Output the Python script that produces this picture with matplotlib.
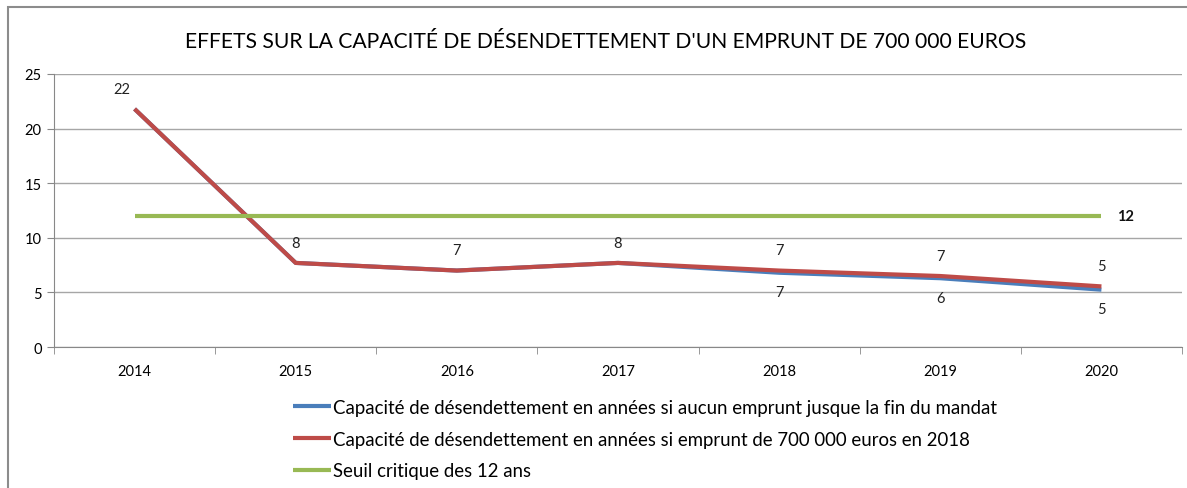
import numpy as np
import matplotlib.pyplot as plt
from matplotlib.patches import Rectangle

plt.rcParams['font.family'] = ['Lato', 'DejaVu Sans']

years = ['2014', '2015', '2016', '2017', '2018', '2019', '2020']
sans_emprunt = [21.8, 7.7, 7.0, 7.7, 6.8, 6.3, 5.25]
avec_emprunt = [21.8, 7.7, 7.0, 7.7, 7.0, 6.5, 5.55]
seuil = [12, 12, 12, 12, 12, 12, 12]

lab_sans = {4: '7', 5: '6', 6: '5'}
lab_avec = ['22', '8', '7', '8', '7', '7', '5']

titre = "EFFETS SUR LA CAPACITÉ DE DÉSENDETTEMENT D'UN EMPRUNT DE 700 000 EUROS"
noms = ["Capacité de désendettement en années si aucun emprunt jusque la fin du mandat",
        "Capacité de désendettement en années si emprunt de 700 000 euros en 2018",
        "Seuil critique des 12 ans"]

BLEU = '#4a7ebb'
ROUGE = '#be4b48'
VERT = '#98b954'

fig = plt.figure(figsize=(11.87, 4.89), dpi=100)
ax = fig.add_axes([54/1187, 1 - 348/489, 1128/1187, 273/489])

x = np.arange(len(years))
l1, = ax.plot(x, sans_emprunt, color=BLEU, lw=3, solid_capstyle='butt')
l2, = ax.plot(x, avec_emprunt, color=ROUGE, lw=3, solid_capstyle='butt')
l3, = ax.plot(x, seuil, color=VERT, lw=3, solid_capstyle='butt')

# étiquettes de données
for i, t in enumerate(lab_avec):
    ax.annotate(t, (x[i], avec_emprunt[i]), xytext=(-9 if i == 0 else 0, 9.5),
                textcoords='offset points', ha='center', va='bottom', fontsize=10.5, color='#222222')
for i, t in lab_sans.items():
    ax.annotate(t, (x[i], sans_emprunt[i]), xytext=(0, -9),
                textcoords='offset points', ha='center', va='top', fontsize=10.5, color='#222222')
ax.annotate('12', (x[-1], seuil[-1]), xytext=(11.5, 0), textcoords='offset points',
            ha='left', va='center', fontsize=10.5, fontweight='bold', color='#111111')

ax.set_xlim(-0.5, 6.5)
ax.set_ylim(0, 25)
ax.set_yticks([0, 5, 10, 15, 20, 25])
ax.set_xticks(x)
ax.set_xticklabels(years)
ax.set_xticks(np.arange(-0.5, 7, 1), minor=True)
ax.tick_params(axis='x', which='major', length=0, pad=12, labelsize=10.5)
ax.tick_params(axis='x', which='minor', length=5, color='#888888')
ax.tick_params(axis='y', length=5, color='#888888', labelsize=10.5, pad=4)
ax.grid(axis='y', color='#a6a6a6', lw=1)
ax.set_axisbelow(True)
for s in ['top', 'right']:
    ax.spines[s].set_visible(False)
ax.spines['left'].set_color('#888888')
ax.spines['bottom'].set_color('#888888')

fig.text(606/1187, 1 - 42/489, titre, ha='center', va='center', fontsize=15.2)

fig.legend([l1, l2, l3], noms, loc='upper left', bbox_to_anchor=(293/1187, 1 - 400/489),
           frameon=False, handlelength=2.05, handletextpad=0.12, labelspacing=0.78,
           fontsize=13.4, borderpad=0, borderaxespad=0)

fig.patches.append(Rectangle((8/1187, -0.1), 1.2, 1 - 8/489 + 0.1, transform=fig.transFigure,
                             fill=False, edgecolor='#8c8c8c', lw=1.5))

plt.savefig('out.png', dpi=100)
